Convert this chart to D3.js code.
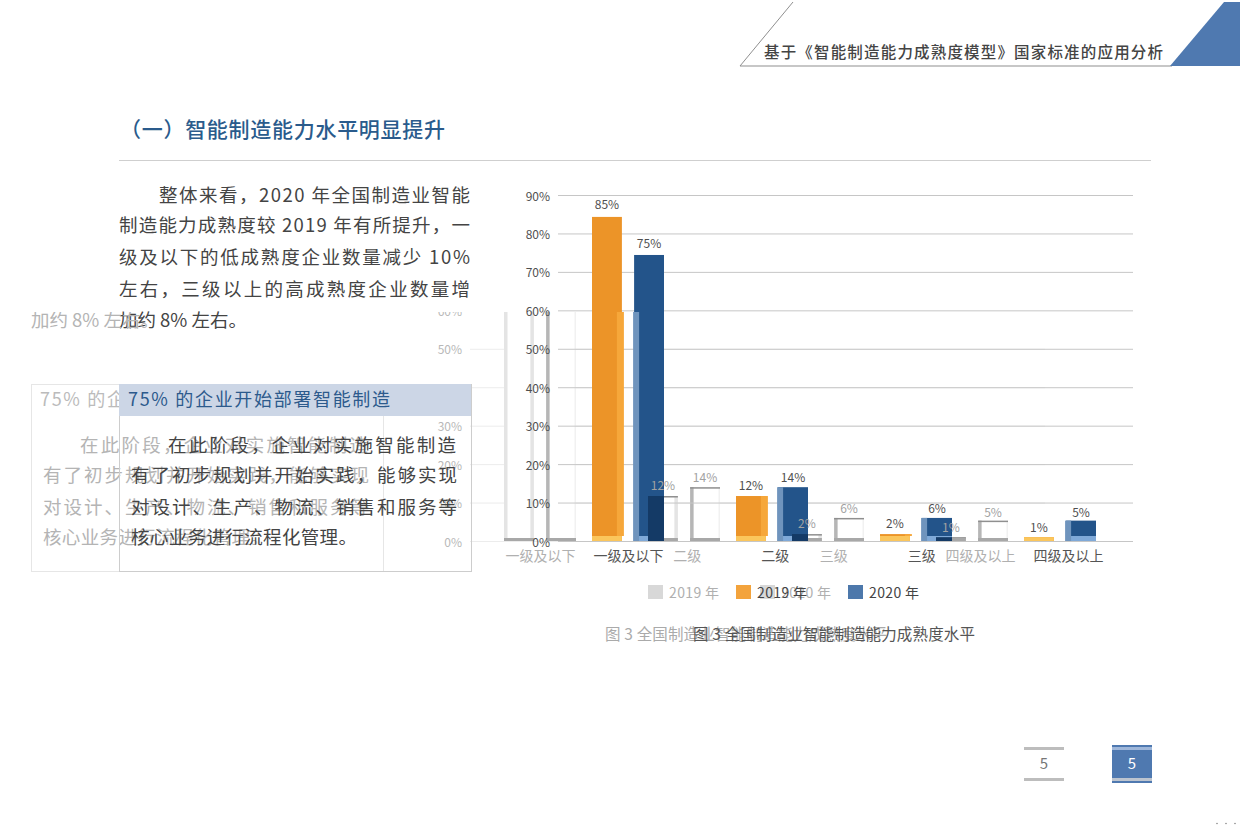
<!DOCTYPE html>
<html>
<head>
<meta charset="utf-8">
<script src="https://cdn.jsdelivr.net/npm/d3@7"></script>
<style>
  html, body { margin: 0; background: #fff; }
  svg { display: block; }
  text { font-family: "Noto Sans CJK SC", "Noto Sans", sans-serif; }
</style>
</head>
<body>
<svg id="page" width="1240" height="826"></svg>
<script>
const categories = ['一级及以下', '二级', '三级', '四级及以上']
const seriesNames = ['2019 年', '2020 年']
const heights2019 = [84.3, 11.7, 1.8, 1]
const heights2020 = [74.4, 14, 6, 5.3]
const labels2019 = [85, 12, 2, 1]
const labels2020 = [75, 14, 6, 5]
const axisTicks = [0, 10, 20, 30, 40, 50, 60, 70, 80, 90]

const headerText = '基于《智能制造能力成熟度模型》国家标准的应用分析'
const sectionTitle = '（一）智能制造能力水平明显提升'
const introLines = [
  '整体来看，2020 年全国制造业智能',
  '制造能力成熟度较 2019 年有所提升，一',
  '级及以下的低成熟度企业数量减少 10%',
  '左右，三级以上的高成熟度企业数量增',
  '加约 8% 左右。'
]
const boxTitle = '75% 的企业开始部署智能制造'
const boxLines = [
  '在此阶段，企业对实施智能制造',
  '有了初步规划并开始实践，能够实现',
  '对设计、生产、物流、销售和服务等',
  '核心业务进行流程化管理。'
]
const caption = '图 3 全国制造业智能制造能力成熟度水平'
const pageNumber = '5'

const colors = ['#ec9428', '#23548a']
const ghostEdges = ['#e4e4e4', '#b6b6b6']
const ghostShift = -88

const svg = d3.select('#page')

const y = d3.scaleLinear().domain([0, 90]).range([541, 195])
const xBars = d3.scaleBand().domain(categories).range([556, 1132]).padding(0)
const xSeries = d3.scaleBand().domain(seriesNames).range([-36, 36]).paddingInner(0.29)
const xLabels = d3.scalePoint().domain(categories).range([628, 1068])
const xLegend = d3.scalePoint().domain(seriesNames).range([736, 848])

const rows = categories.flatMap((c, i) => [
  { cat: c, s: 0, name: seriesNames[0], height: heights2019[i], label: labels2019[i] },
  { cat: c, s: 1, name: seriesNames[1], height: heights2020[i], label: labels2020[i] }
])
const barX = d => xBars(d.cat) + xBars.bandwidth() / 2 + xSeries(d.name)

const textLine = (g, str, x, base, size, color, width, weight) => {
  g.append('text')
    .attr('x', x)
    .attr('y', base)
    .attr('textLength', width)
    .attr('lengthAdjust', 'spacing')
    .attr('font-size', size)
    .attr('font-weight', weight || 400)
    .attr('fill', color)
    .text(str)
}

const drawValueLabels = (g, color) => {
  g.selectAll('.value').data(rows).enter().append('text')
    .attr('class', 'value')
    .attr('x', d => barX(d) + xSeries.bandwidth() / 2)
    .attr('y', d => y(d.label) - 5)
    .attr('text-anchor', 'middle')
    .attr('font-size', 12)
    .attr('fill', color)
    .text(d => `${d.label}%`)
}

const drawChart = (g, ghost) => {
  const axisColor = ghost ? '#b8b8b8' : '#4f4f4f'
  const gridColor = ghost ? '#ececec' : '#c6c6c6'

  const axis = g.append('g')
    .attr('transform', 'translate(558, 0)')
    .call(d3.axisLeft(y).tickValues(axisTicks).tickFormat(d => `${d}%`).tickSize(-575).tickPadding(8))
  axis.select('.domain').remove()
  axis.selectAll('line').attr('stroke', gridColor)
  axis.selectAll('text').attr('font-size', 12).attr('fill', axisColor).attr('dy', '0.42em')

  if (ghost) {
    // washed out copy: only the edges of each bar survive
    const edge = (x, yy, w, h, color) => g.selectAll(null).data(rows).enter().append('rect')
      .attr('x', x).attr('y', yy).attr('width', w).attr('height', h)
      .attr('fill', color)
    const barHeight = d => y(0) - y(d.height)
    const bw = xSeries.bandwidth()
    edge(barX, d => y(d.height), bw, barHeight, '#fff')
    edge(barX, d => y(d.height), 3.5, barHeight, d => ghostEdges[d.s])
    edge(d => barX(d) + bw - (d.s ? 1.5 : 3.5), d => y(d.height), d => d.s ? 1.5 : 3.5, barHeight, d => d.s ? '#f1f1f1' : ghostEdges[0])
    edge(barX, d => y(d.height), bw, 1.5, '#8f8f8f')
    edge(barX, () => y(0) - 3, bw, 3, '#a8a8a8')
  } else {
    g.selectAll('.bar').data(rows).enter().append('rect')
      .attr('class', 'bar')
      .attr('x', barX)
      .attr('y', d => y(d.height))
      .attr('width', xSeries.bandwidth())
      .attr('height', d => y(0) - y(d.height))
      .attr('fill', d => colors[d.s])
  }

  const bottom = g.append('g')
    .attr('transform', 'translate(0, 541)')
    .call(d3.axisBottom(xLabels).tickSize(0).tickPadding(10))
  bottom.select('.domain').remove()
  bottom.selectAll('text').attr('font-size', 14).attr('fill', ghost ? '#b0b0b0' : '#555')

  seriesNames.forEach((name, i) => {
    g.append('rect')
      .attr('x', xLegend(name))
      .attr('y', 585)
      .attr('width', 15)
      .attr('height', 14)
      .attr('fill', ghost ? '#d8d8d8' : (i ? '#4d78ab' : '#f3a33c'))
    textLine(g, name, xLegend(name) + 21, 598, 14, ghost ? '#b0b0b0' : '#444', 50)
  })
  textLine(g, caption, 693, 640, 15.5, ghost ? '#aaa' : '#555', 282)
}

const drawBox = (g, ghost) => {
  g.append('rect')
    .attr('x', 119.5).attr('y', 384.5).attr('width', 352).attr('height', 187)
    .attr('fill', 'none')
    .attr('stroke', ghost ? '#e6e6e6' : '#cdcdcd')
  if (!ghost) {
    g.append('rect')
      .attr('x', 119).attr('y', 384).attr('width', 352).attr('height', 32)
      .attr('fill', '#ccd6e6')
  }
  const ink = ghost ? '#b4b4b4' : '#444'
  textLine(g, boxTitle, 128, 406, 18, ghost ? '#bbb' : '#2c5a8c', 262)
  textLine(g, boxLines[0], 168, 452, 18.5, ink, 288)
  textLine(g, boxLines[1], 131, 482, 18.5, ink, 326)
  textLine(g, boxLines[2], 131, 514, 18.5, ink, 326)
  textLine(g, boxLines[3], 131, 544, 18.5, ink, 226)
}

const drawPageNumber = (g, ghost) => {
  g.append('rect')
    .attr('x', 1112).attr('y', 745).attr('width', 40).attr('height', 38)
    .attr('fill', ghost ? '#fff' : '#4f79b0')
  const rule = ghost ? '#bdbdbd' : '#9fb7da'
  g.append('rect').attr('x', 1112).attr('y', 747).attr('width', 40).attr('height', 3).attr('fill', rule)
  g.append('rect').attr('x', 1112).attr('y', 778).attr('width', 40).attr('height', 3).attr('fill', ghost ? rule : '#bcc4cf')
  g.append('text')
    .attr('x', 1132).attr('y', 769)
    .attr('text-anchor', 'middle')
    .attr('font-size', 15)
    .attr('fill', ghost ? '#777' : '#fff')
    .text(pageNumber)
}

// header
svg.append('path')
  .attr('d', 'M740,66 L793,2 M740,66 H1172')
  .attr('fill', 'none')
  .attr('stroke', '#8f8f8f')
svg.append('path')
  .attr('d', 'M1170,66 L1224,2 H1240 V66 Z')
  .attr('fill', '#4f79b0')
textLine(svg, headerText, 764, 58, 15.5, '#444', 399, 500)

// section title and intro
textLine(svg, sectionTitle, 120, 137, 21, '#2a5b8c', 325, 500)
svg.append('line')
  .attr('x1', 119).attr('x2', 1151).attr('y1', 160.5).attr('y2', 160.5)
  .attr('stroke', '#cfcfcf')
const introBases = [202, 232, 264, 296, 327]
introLines.forEach((line, i) => {
  const x = i ? 119 : 159
  const width = i === 4 ? 128 : 470 - x
  textLine(svg, line, x, introBases[i], 18.5, '#444', width)
})

// washed copy of the lower part of the page, shifted left
const defs = svg.append('defs')
defs.append('clipPath').attr('id', 'ghostClip')
  .append('rect').attr('x', 0).attr('y', 312).attr('width', 1240).attr('height', 514)

const drawGhost = () => {
  const wrap = svg.append('g').attr('clip-path', 'url(#ghostClip)')
  const g = wrap.append('g').attr('transform', `translate(${ghostShift}, 0)`)
  drawChart(g, true)
  drawBox(g, true)
  drawPageNumber(g, true)
  textLine(g, introLines[4], 119, 327, 18.5, '#b4b4b4', 128)
}

drawGhost()
drawChart(svg.append('g'), false)
drawBox(svg.append('g'), false)
drawPageNumber(svg.append('g'), false)

// lighter stripes the ghost leaves on the real bars
const stripes = svg.append('g').attr('clip-path', 'url(#ghostClip)')
const baseTop = d => Math.max(y(d.height), y(0) - 5)
stripes.selectAll('.base').data(rows).enter().append('rect')
  .attr('x', barX)
  .attr('y', baseTop)
  .attr('width', xSeries.bandwidth())
  .attr('height', d => y(0) - baseTop(d))
  .attr('fill', d => d.s ? '#7fa9d8' : '#fbc65c')
stripes.selectAll('.side').data(rows.filter(d => d.s === 1)).enter().append('rect')
  .attr('x', d => barX(d) - 1)
  .attr('y', d => y(d.height))
  .attr('width', 6)
  .attr('height', d => y(0) - y(d.height))
  .attr('fill', '#6f94bd')
stripes.selectAll('.warm').data(rows.filter(d => d.s === 0)).enter().append('rect')
  .attr('x', d => barX(d) + xSeries.bandwidth() - 5)
  .attr('y', d => y(d.height))
  .attr('width', 7)
  .attr('height', d => Math.max(0, baseTop(d) - y(d.height)))
  .attr('fill', '#f6a73a')

// where a shifted bar falls on a real blue bar the colour goes darker
const overlaps = rows.filter(d => d.s === 1).flatMap(real => rows.map(shifted => {
  const left = Math.max(barX(real), barX(shifted) + ghostShift)
  const right = Math.min(barX(real), barX(shifted) + ghostShift) + xSeries.bandwidth()
  return { left, width: right - left, top: Math.max(y(real.height), y(shifted.height)) }
}).filter(o => o.width > 0))
stripes.selectAll('.overlap').data(overlaps).enter().append('rect')
  .attr('x', d => d.left)
  .attr('y', d => d.top)
  .attr('width', d => d.width)
  .attr('height', d => y(0) - d.top)
  .attr('fill', '#143a66')

// value labels go last so the bars and stripes never cover them
const ghostLabels = stripes.append('g').attr('transform', `translate(${ghostShift}, 0)`)
drawValueLabels(ghostLabels, '#a2a2a2')
drawValueLabels(svg.append('g'), '#4f4f4f')

svg.selectAll('.dot').data([1217, 1226, 1235]).enter().append('circle')
  .attr('class', 'dot')
  .attr('cx', d => d)
  .attr('cy', 823.5)
  .attr('r', 0.8)
  .attr('fill', '#888')
</script>
</body>
</html>
